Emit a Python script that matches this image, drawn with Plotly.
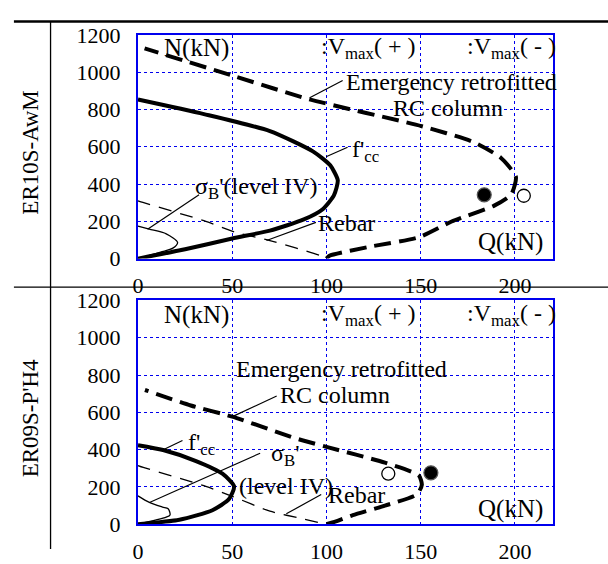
import plotly.graph_objects as go

# ---------------- data ----------------
# Top panel: ER10S-AwM
top_emerg_q = [100, 101.6, 122.6, 148.9, 166.4, 189, 198, 200.5, 192.6, 178, 150.6, 91, 50, 3.5]
top_emerg_n = [0, 15, 63, 114, 199, 284, 344, 438, 540, 625, 710, 854, 982, 1127]
top_fcc_q = [0, 35, 70, 93, 102, 106, 104, 98, 88, 70, 50, 25, 0]
top_fcc_n = [853, 775, 684, 574, 500, 420, 340, 265, 210, 150, 108, 50, 0]
top_rebar_q = [0, 2.6, 36, 52, 70, 98, 100]
top_rebar_n = [310, 301, 200, 140, 97, 12, 0]
top_sigma_q = [0, 6, 15, 21, 18.5, 12, 0]
top_sigma_n = [174, 158, 133, 87, 56, 35, 0]
top_pos_q = [183.7]
top_pos_n = [342]
top_neg_q = [204.7]
top_neg_n = [337]

# Bottom panel: ER09S-P'H4
bot_emerg_q = [100, 105, 114, 131, 148, 150.6, 149, 131, 100, 87.6, 82, 50, 28, 3.7]
bot_emerg_n = [0, 15, 49, 100, 160, 211, 262, 330, 415, 449, 466, 577, 637, 720]
bot_fcc_q = [0, 13.3, 30.8, 44.8, 51, 48.3, 39.5, 22, 0]
bot_fcc_n = [424, 398, 339, 271, 203, 135, 75, 24, 0]
bot_rebar_q = [0, 2.8, 36, 50, 70, 88, 100]
bot_rebar_n = [315, 305, 203, 150, 70, 28, 0]
bot_sigma_q = [0, 6, 13, 16, 17, 15, 0]
bot_sigma_n = [152, 117, 92, 83, 50, 38, 0]
bot_pos_q = [155.4]
bot_pos_n = [276]
bot_neg_q = [132.8]
bot_neg_n = [271]

x_ticks = [0, 50, 100, 150, 200]
y_ticks = [0, 200, 400, 600, 800, 1000, 1200]
row_labels = ["ER10S-AwM", "ER09S-P'H4"]

FONT = "Times New Roman, Liberation Serif, serif"
BLUE = "#0000ee"

fig = go.Figure()

def add_panel(xa, ya, eq, en, fq, fn, rq, rn, sq, sn, pq, pn, nq, nn):
    fig.add_trace(go.Scatter(x=eq, y=en, mode="lines", xaxis=xa, yaxis=ya,
                             line=dict(color="black", width=4, dash="17px,8px", shape="spline", smoothing=0.6),
                             showlegend=False, hoverinfo="skip"))
    fig.add_trace(go.Scatter(x=fq, y=fn, mode="lines", xaxis=xa, yaxis=ya,
                             line=dict(color="black", width=4, shape="spline", smoothing=0.6),
                             showlegend=False, hoverinfo="skip"))
    fig.add_trace(go.Scatter(x=rq, y=rn, mode="lines", xaxis=xa, yaxis=ya,
                             line=dict(color="black", width=1.3, dash="13px,9px", shape="spline", smoothing=0.6),
                             showlegend=False, hoverinfo="skip"))
    fig.add_trace(go.Scatter(x=sq, y=sn, mode="lines", xaxis=xa, yaxis=ya,
                             line=dict(color="black", width=1.3, shape="spline", smoothing=0.8),
                             showlegend=False, hoverinfo="skip"))
    fig.add_trace(go.Scatter(x=pq, y=pn, mode="markers", xaxis=xa, yaxis=ya,
                             marker=dict(color="black", size=14, line=dict(color="#555", width=1.2)),
                             showlegend=False, hoverinfo="skip"))
    fig.add_trace(go.Scatter(x=nq, y=nn, mode="markers", xaxis=xa, yaxis=ya,
                             marker=dict(color="white", size=13, line=dict(color="black", width=1.3)),
                             showlegend=False, hoverinfo="skip"))

add_panel("x", "y", top_emerg_q, top_emerg_n, top_fcc_q, top_fcc_n, top_rebar_q, top_rebar_n,
          top_sigma_q, top_sigma_n, top_pos_q, top_pos_n, top_neg_q, top_neg_n)
add_panel("x2", "y2", bot_emerg_q, bot_emerg_n, bot_fcc_q, bot_fcc_n, bot_rebar_q, bot_rebar_n,
          bot_sigma_q, bot_sigma_n, bot_pos_q, bot_pos_n, bot_neg_q, bot_neg_n)

W, H = 608, 564
x_dom = [133.3 / W, 552.1 / W]
top_dom = [1 - 259 / H, 1 - 24 / H]
bot_dom = [1 - 538 / H, 1 - 303 / H]

axis_common = dict(showline=True, mirror=True, linecolor=BLUE, linewidth=2,
                   showgrid=True, gridcolor=BLUE, gridwidth=1, griddash="dot",
                   zeroline=False, ticks="", tickfont=dict(family=FONT, size=22, color="black"))

fig.update_layout(
    width=W, height=H, margin=dict(l=0, r=0, t=0, b=0),
    paper_bgcolor="white", plot_bgcolor="white",
    font=dict(family=FONT, size=22, color="black"),
    xaxis=dict(domain=x_dom, anchor="y", range=[0, 220], tickvals=x_ticks, ticklabelstandoff=6, **axis_common),
    yaxis=dict(domain=top_dom, anchor="x", range=[0, 1200], tickvals=y_ticks, ticklabelstandoff=11, **axis_common),
    xaxis2=dict(domain=x_dom, anchor="y2", range=[0, 220], tickvals=x_ticks, ticklabelstandoff=6, **axis_common),
    yaxis2=dict(domain=bot_dom, anchor="x2", range=[0, 1200], tickvals=y_ticks, ticklabelstandoff=11, **axis_common),
)

ann = []
def txt(xr, yr, x, y, t, xanchor="left", size=24):
    ann.append(dict(xref=xr, yref=yr, x=x, y=y, text=t, showarrow=False, xanchor=xanchor,
                    yanchor="middle", font=dict(family=FONT, size=size, color="black")))

shapes = []
def leader(xr, yr, x0, y0, x1, y1):
    shapes.append(dict(type="line", xref=xr, yref=yr, x0=x0, y0=y0, x1=x1, y1=y1,
                       line=dict(color="black", width=1.2)))

# top panel texts
txt("x", "y", 31.2, 1128, "N(kN)", "center", 25)
txt("x", "y", 96.0, 1128, ":V<sub>max</sub>( + )")
txt("x", "y", 173.5, 1128, ":V<sub>max</sub>( - )")
txt("x", "y", 109.3, 945, "Emergency retrofitted")
txt("x", "y", 164.5, 806, "RC column", "center")
txt("x", "y", 112.5, 575, "f'<sub>cc</sub>")
txt("x", "y", 29.3, 378, "σ<sub>B</sub>'(level IV)")
txt("x", "y", 94.5, 189, "Rebar")
txt("x", "y", 197.6, 87, "Q(kN)", "center", 25)
leader("x", "y", 91.1, 863, 108.6, 955)
leader("x", "y", 99.8, 546, 111.2, 597)
leader("x", "y", 5.1, 158, 32.4, 342)
leader("x", "y", 68.2, 97, 94.4, 194)

# bottom panel texts
txt("x2", "y2", 31.2, 1123, "N(kN)", "center", 25)
txt("x2", "y2", 96.0, 1123, ":V<sub>max</sub>( + )")
txt("x2", "y2", 173.5, 1123, ":V<sub>max</sub>( - )")
txt("x2", "y2", 51, 830, "Emergency retrofitted")
txt("x2", "y2", 104.6, 692, "RC column", "center")
txt("x2", "y2", 25.4, 428, "f'<sub>cc</sub>")
txt("x2", "y2", 69.3, 370, "σ<sub>B</sub>'")
txt("x2", "y2", 52.5, 204, "(level IV)")
txt("x2", "y2", 99.8, 158, "Rebar")
txt("x2", "y2", 197.6, 82, "Q(kN)", "center", 25)
leader("x2", "y2", 50.1, 577, 73.6, 688)
leader("x2", "y2", 13.1, 398, 23.6, 449)
leader("x2", "y2", 6.1, 117, 64.8, 381)
leader("x2", "y2", 78.7, 56, 97.2, 159)

# row labels
for lbl, yc in zip(row_labels, [148, 427]):
    ann.append(dict(xref="paper", yref="paper", x=25 / W, y=1 - yc / H, text=lbl, showarrow=False,
                    textangle=-90, xanchor="center", yanchor="middle",
                    font=dict(family=FONT, size=23, color="black")))

# table rules
shapes.append(dict(type="line", xref="paper", yref="paper", x0=8 / W, x1=1, y0=1 - 10 / H, y1=1 - 10 / H,
                   line=dict(color="black", width=2.5)))
shapes.append(dict(type="line", xref="paper", yref="paper", x0=8 / W, x1=1, y0=1 - 289 / H, y1=1 - 289 / H,
                   line=dict(color="black", width=1.3)))
shapes.append(dict(type="line", xref="paper", yref="paper", x0=45 / W, x1=45 / W, y0=0, y1=1 - 10 / H,
                   line=dict(color="black", width=1.3)))

fig.update_layout(annotations=ann, shapes=shapes)
fig.write_html("out.html")
